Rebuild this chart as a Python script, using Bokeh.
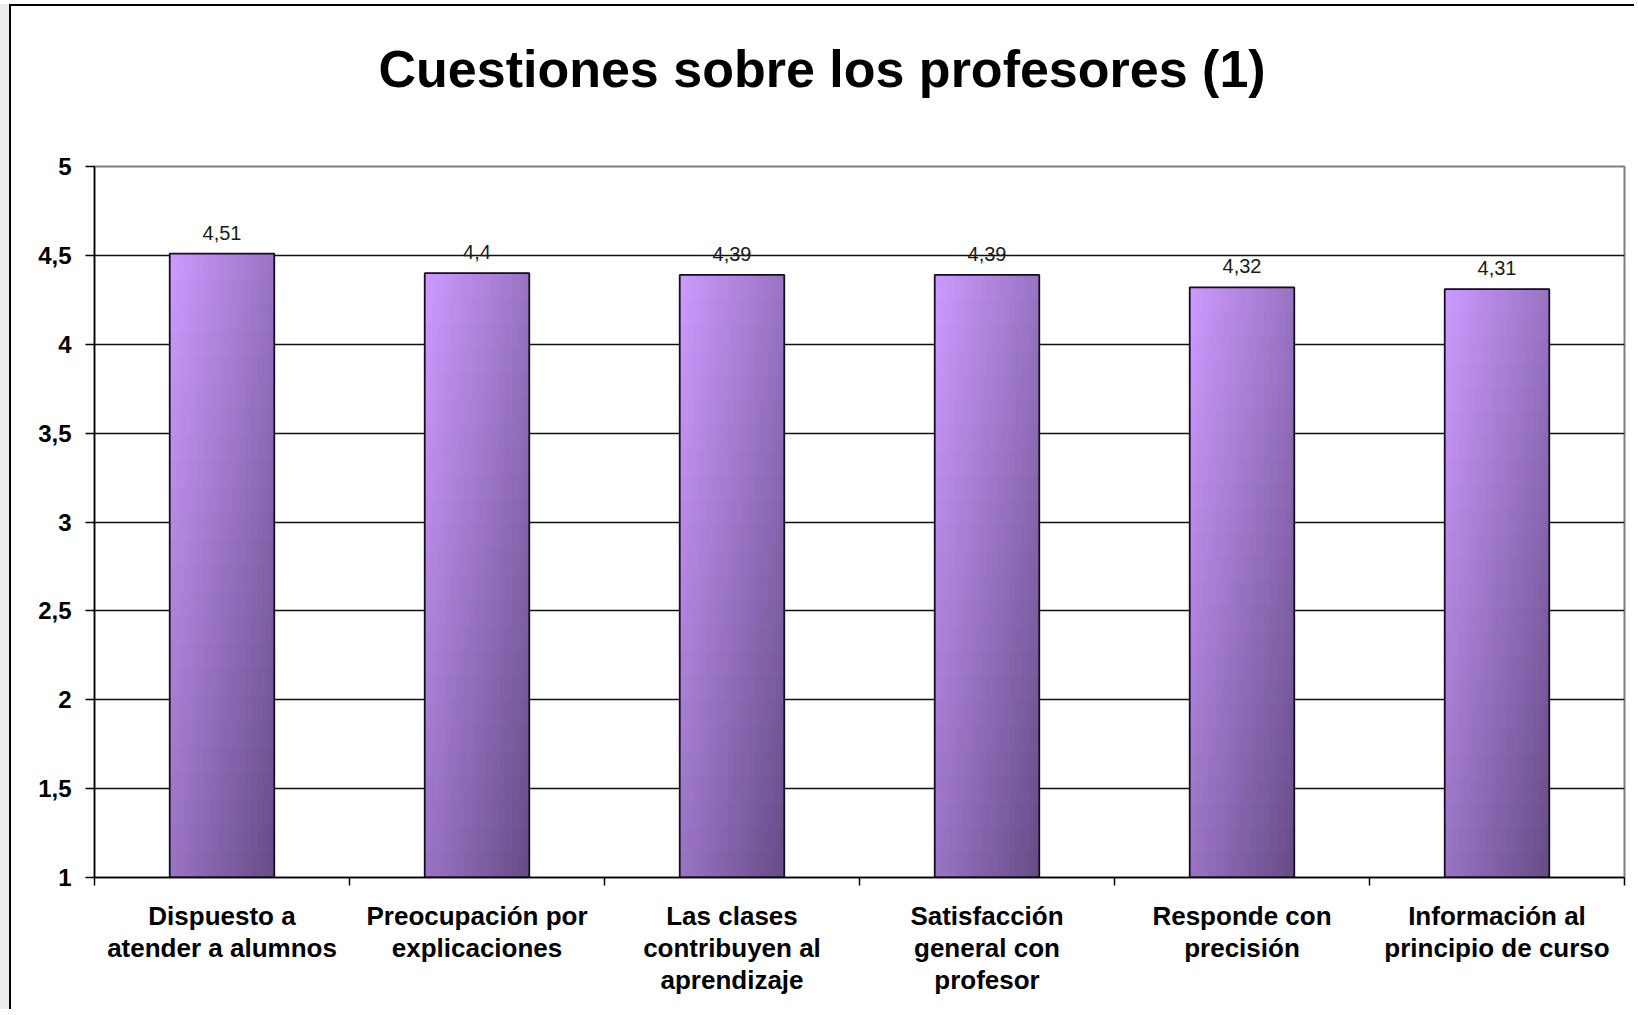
from bokeh.plotting import figure
from bokeh.models import (Range1d, FixedTicker, CustomJSTickFormatter,
                          ColumnDataSource, LabelSet, LinearAxis, Title)
from bokeh.core.properties import value
from bokeh.embed import file_html
from bokeh.resources import INLINE

# ---------------- data ----------------
title = "Cuestiones sobre los profesores (1)"
categories = [
    "Dispuesto a\natender a alumnos",
    "Preocupación por\nexplicaciones",
    "Las clases\ncontribuyen al\naprendizaje",
    "Satisfacción\ngeneral con\nprofesor",
    "Responde con\nprecisión",
    "Información al\nprincipio de curso",
]
values = [4.51, 4.40, 4.39, 4.39, 4.32, 4.31]
y_ticks = [1, 1.5, 2, 2.5, 3, 3.5, 4, 4.5, 5]
y_min, y_max = 1, 5

FONT = "Liberation Sans"
W, H = 1625, 1005
n = len(categories)
centers = [i + 0.5 for i in range(n)]
labels_txt = [("%g" % v).replace(".", ",") for v in values]

p = figure(width=W, height=H, output_backend="svg", toolbar_location=None,
           title=None,
           x_range=Range1d(0, n), y_range=Range1d(y_min, y_max),
           min_border_left=83, min_border_right=12, min_border_top=160,
           min_border_bottom=134)
p.styles = {"border-left": "2px solid #000", "border-top": "2px solid #000",
            "margin-left": "9px", "margin-top": "4px",
            "box-shadow": "-9px 0 0 0 #ececec"}
p.background_fill_color = "white"
p.border_fill_color = "white"
p.outline_line_color = "#7f7f7f"
p.outline_line_width = 2

# ---------------- title (spacer first = nearest the frame) ----------------
p.add_layout(Title(text=" ", text_font_size="10px", standoff=27), "above")
p.add_layout(Title(text=title, align="left", offset=284, standoff=58,
                   text_font=FONT, text_font_size="52px",
                   text_font_style="bold", text_color="black"), "above")

# ---------------- gradient bars ----------------
NC, NR = 24, 24
bw = 0.41
light = (205, 155, 255)
dark = (75, 55, 105)
L, R, B, T, C = [], [], [], [], []
for i, v in enumerate(values):
    x0 = centers[i] - bw / 2
    for c in range(NC):
        u = (c + 0.5) / NC
        for r in range(NR):
            d = (r + 0.5) / NR
            t = 0.4 * u + 0.4 * d
            col = tuple(int(round(a * (1 - t) + b * t)) for a, b in zip(light, dark))
            L.append(x0 + bw * c / NC)
            R.append(x0 + bw * (c + 1) / NC)
            T.append(v - (v - y_min) * r / NR)
            B.append(v - (v - y_min) * (r + 1) / NR)
            C.append("#%02x%02x%02x" % col)
qsrc = ColumnDataSource(dict(left=L, right=R, bottom=B, top=T, color=C))
p.quad(left="left", right="right", bottom="bottom", top="top", source=qsrc,
       fill_color="color", line_color="color", line_width=0.8)

bsrc = ColumnDataSource(dict(x=centers, top=values, lbl=labels_txt))
p.vbar(x="x", top="top", bottom=y_min, width=bw, source=bsrc,
       fill_color=None, line_color="#150d20", line_width=1.8)

p.add_layout(LabelSet(x="x", y="top", text="lbl", source=bsrc, y_offset=14,
                      text_align="center", text_baseline="alphabetic",
                      text_font=value(FONT), text_font_size="20px",
                      text_color="#1a1a1a"))

# ---------------- axes & grid ----------------
p.xaxis.ticker = FixedTicker(ticks=list(range(n + 1)))
p.xaxis.formatter = CustomJSTickFormatter(code="return ''")
p.xaxis.major_label_text_font_size = "0px"
p.xaxis.major_label_standoff = 0
p.xaxis.major_tick_out = 8
p.xaxis.major_tick_in = 0
p.xaxis.major_tick_line_color = "black"
p.xaxis.major_tick_line_width = 1.5
p.xaxis.axis_line_color = "black"
p.xaxis.axis_line_width = 1.5
p.xaxis.minor_tick_line_color = None

cat_axis = LinearAxis(ticker=FixedTicker(ticks=centers),
                      major_label_overrides={c: t for c, t in zip(centers, categories)},
                      major_tick_out=0, major_tick_in=0,
                      major_tick_line_color=None, minor_tick_line_color=None,
                      axis_line_color=None, major_label_standoff=15,
                      major_label_text_font=FONT,
                      major_label_text_font_size="26px",
                      major_label_text_font_style="bold",
                      major_label_text_color="black",
                      major_label_text_line_height=1.08)
p.add_layout(cat_axis, "below")

p.yaxis.ticker = FixedTicker(ticks=y_ticks)
p.yaxis.formatter = CustomJSTickFormatter(code="return tick.toString().replace('.', ',')")
p.yaxis.major_tick_out = 9
p.yaxis.major_tick_in = 0
p.yaxis.major_tick_line_color = "black"
p.yaxis.major_tick_line_width = 1.5
p.yaxis.axis_line_color = "black"
p.yaxis.axis_line_width = 1.5
p.yaxis.minor_tick_line_color = None
p.yaxis.major_label_standoff = 14
p.yaxis.major_label_text_font = FONT
p.yaxis.major_label_text_font_size = "24px"
p.yaxis.major_label_text_font_style = "bold"
p.yaxis.major_label_text_color = "black"

p.xgrid.visible = False
p.ygrid.ticker = FixedTicker(ticks=y_ticks[1:-1])
p.ygrid.grid_line_color = "#111111"
p.ygrid.grid_line_width = 1.3

open("out.html", "w").write(file_html(p, INLINE))
